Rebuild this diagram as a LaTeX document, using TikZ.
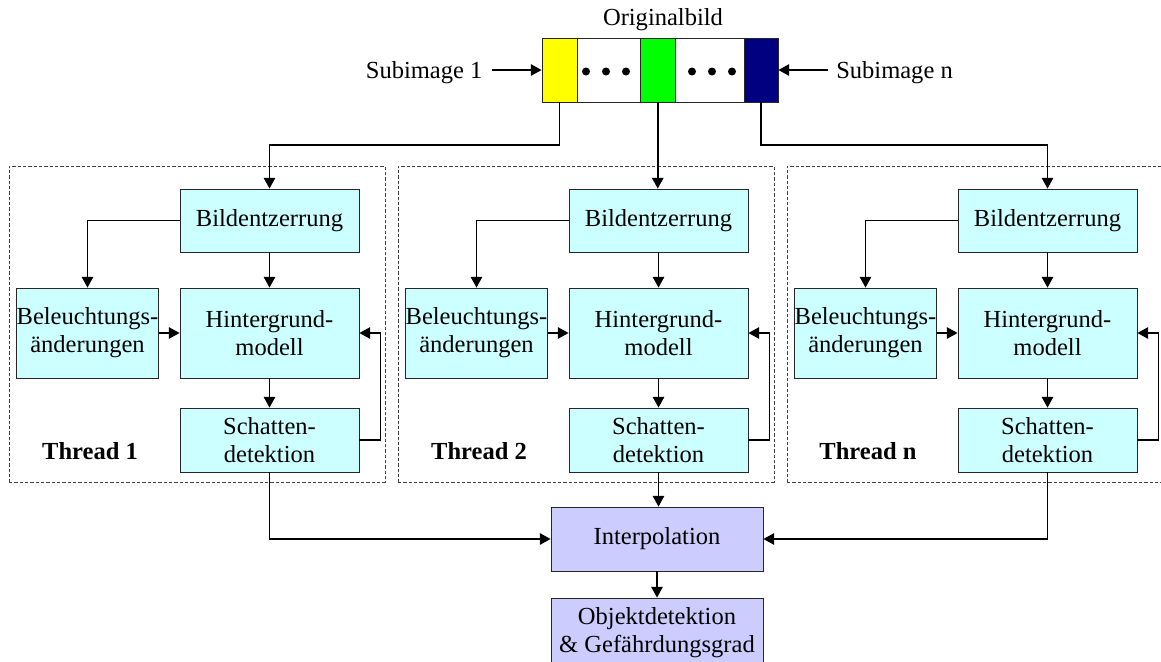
\documentclass[tikz,border=0pt]{standalone}
\usepackage{fontspec}
\setmainfont{Liberation Serif}
\usetikzlibrary{arrows.meta}
\definecolor{boxcyan}{HTML}{CCFFFF}
\definecolor{boxlav}{HTML}{CCCCFF}
\definecolor{navyblue}{HTML}{000080}
\definecolor{pureyellow}{HTML}{FFFF00}
\definecolor{puregreen}{HTML}{00FF00}
\begin{document}
\begin{tikzpicture}[x=0.75pt,y=-0.75pt,
  font=\fontsize{18.4}{21}\selectfont,
  procbox/.style={draw=black!85, line width=0.6pt, fill=boxcyan, inner sep=0pt, align=center},
  finalbox/.style={procbox, fill=boxlav, minimum width=159pt},
  arr/.style={line width=1.15pt, -{Triangle[length=8pt,width=8.5pt]}},
  threadbox/.style={draw=black!75, line width=0.6pt, dash pattern=on 2.5pt off 1.5pt, inner sep=0pt,
    minimum width=282pt, minimum height=237pt},
  stripcell/.style={draw=black!85, line width=0.6pt, inner sep=0pt, minimum height=48pt}
]
\useasboundingbox (0,0) rectangle (1161,661);
\clip (0,0) rectangle (1161,661);

% Original image strip
\node[stripcell, fill=white, minimum width=177pt] (strip) at (660,70) {};
\node[stripcell, fill=pureyellow, minimum width=26.25pt] (yel) at (559.5,70) {};
\node[stripcell, fill=puregreen, minimum width=26.25pt] (grn) at (657.75,70) {};
\node[stripcell, fill=navyblue, minimum width=25.5pt] (blu) at (761,70) {};
\foreach \dx in {586,606,626,692,712,732} \fill (\dx,71.5) circle (4);
\node (orig) at (663,20) {Originalbild};
\node[anchor=east, inner xsep=7pt, inner ysep=0pt] (sub1) at (492,72.5) {Subimage 1};
\node[anchor=west, inner xsep=6pt, inner ysep=0pt] (subn) at (828,72.5) {Subimage n};
\draw[arr] (sub1.east |- yel.west) -- (yel.west);
\draw[arr] (subn.west |- blu.east) -- (blu.east);

% Threads
\foreach \k/\off/\lab in {1/0/1, 2/389/2, 3/778/n}{
  \node[threadbox] (thr\k) at (197+\off,324) {};
  \node[procbox, minimum width=134.25pt, minimum height=47.25pt] (bild\k) at (269.5+\off,220.5) {Bildentzerrung};
  \node[procbox, minimum width=105.75pt, minimum height=67.5pt] (bel\k) at (87.5+\off,333) {Beleuchtungs-\\änderungen};
  \node[procbox, minimum width=134.25pt, minimum height=67.5pt] (hin\k) at (269.5+\off,333) {Hintergrund-\\modell};
  \node[procbox, minimum width=134.25pt, minimum height=48pt] (sch\k) at (269.5+\off,440) {Schatten-\\detektion};
  \node[font=\fontsize{18.4}{21}\selectfont\bfseries] (lab\k) at (90+\off,451) {Thread \lab};
  \draw[arr] (bild\k.west) -| (bel\k.north);
  \draw[arr] (bild\k.south) -- (hin\k.north);
  \draw[arr] (bel\k.east) -- (hin\k.west);
  \draw[arr] (hin\k.south) -- (sch\k.north);
  \draw[arr] (sch\k.east) -- ++(21,0) |- (hin\k.east);
}

% Strip to threads
\draw[arr] (yel.south) -- (yel.south |- 0,145) -| (bild1.north);
\draw[arr] (grn.south) -- (grn.south |- bild2.north);
\draw[arr] (blu.south) -- (blu.south |- 0,145) -| (bild3.north);

% Final stages
\node[finalbox, minimum height=48pt] (interp) at (657,539) {Interpolation};
\node[finalbox, minimum height=52.5pt] (obj) at (657,633) {Objektdetektion\\\& Gefährdungsgrad};
\draw[arr] (sch1.south) |- (interp.west);
\draw[arr] (sch2.south) -- (sch2.south |- interp.north);
\draw[arr] (sch3.south) |- (interp.east);
\draw[arr] (interp.south) -- (obj.north);
\end{tikzpicture}
\end{document}
